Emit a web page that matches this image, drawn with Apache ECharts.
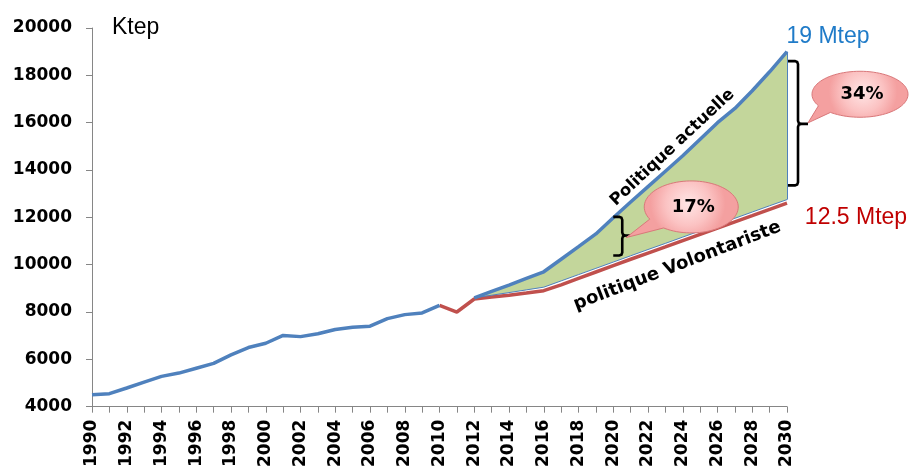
<!DOCTYPE html>
<html><head><meta charset="utf-8">
<script src="https://cdn.jsdelivr.net/npm/echarts@6/dist/echarts.min.js"></script>
<style>html,body{margin:0;padding:0;background:#fff}#c{width:911px;height:470px}</style>
</head><body><div id="c"></div>
<script>
const years = ['1990','1991','1992','1993','1994','1995','1996','1997','1998','1999','2000',
  '2001','2002','2003','2004','2005','2006','2007','2008','2009','2010',
  '2011','2012','2013','2014','2015','2016','2017','2018','2019','2020',
  '2021','2022','2023','2024','2025','2026','2027','2028','2029','2030'];
// Historique 1990-2010
const historique = [4500,4550,4790,5040,5280,5420,5625,5830,6190,6500,6680,7010,6960,7080,7260,7360,7400,7720,7890,7960,8280];
// Politique volontariste 2010-2030
const volontariste = [8280,8000,8550,8630,8710,8800,8900,9150,9420,9690,9960,10230,10490,10750,11020,11280,11550,11810,12070,12340,12600];
// Politique actuelle 2012-2030
const actuelle = [8600,8870,9140,9420,9700,10230,10760,11300,11980,12650,13300,13950,14600,15300,16000,16600,17350,18150,19000];
// Bord inférieur de la zone verte 2012-2030
const bordInf = [8600,8710,8820,8935,9050,9315,9580,9845,10110,10375,10640,10900,11165,11430,11695,11960,12225,12490,12750];
const yTicks = {min:4000, max:20000, interval:2000};

function pad(arr, startYear){
  const s = years.indexOf(startYear);
  return years.map((y,i)=> (i>=s && i-s<arr.length) ? arr[i-s] : null);
}
const histFull = pad(historique,'1990');
const volFull = pad(volontariste,'2010');
const actFull = pad(actuelle,'2012');
const infFull = pad(bordInf,'2012');
const diffFull = actFull.map((v,i)=> v==null?null: v - infFull[i]);

const BLUE = '#4F81BD', RED = '#C0504D', GREEN = '#C3D69B';
const chart = echarts.init(document.getElementById('c'));
const lastYear = years[years.length-1];
chart.setOption({
  animation:false,
  backgroundColor:'#fff',
  grid:{left:92,right:124,top:28,bottom:59},
  xAxis:{type:'category',data:years,boundaryGap:false,
    axisLine:{lineStyle:{color:'#868686',width:1}},
    axisTick:{interval:0,length:6,lineStyle:{color:'#868686'}},
    axisLabel:{interval:1,rotate:90,margin:13,color:'#000',fontFamily:'DejaVu Sans',fontWeight:'bold',fontSize:17},
    splitLine:{show:false}},
  yAxis:{type:'value',min:yTicks.min,max:yTicks.max,interval:yTicks.interval,
    axisLine:{show:true,lineStyle:{color:'#868686',width:1}},
    axisTick:{show:true,length:6,lineStyle:{color:'#868686'}},
    axisLabel:{margin:20,color:'#000',fontFamily:'DejaVu Sans',fontWeight:'bold',fontSize:17,formatter:v=>String(v)},
    splitLine:{show:false}},
  series:[
    {name:'bordInf',type:'line',data:infFull,stack:'gap',symbol:'none',z:4,
      lineStyle:{color:BLUE,width:1}},
    {name:'zone',type:'line',data:diffFull,stack:'gap',symbol:'none',z:2,
      lineStyle:{width:0,opacity:0},areaStyle:{color:GREEN,opacity:1},
      markLine:{silent:true,symbol:'none',label:{show:false},lineStyle:{color:BLUE,width:1,type:'solid'},
        data:[[{coord:[lastYear,bordInf[bordInf.length-1]]},{coord:[lastYear,actuelle[actuelle.length-1]]}]]}},
    {name:'Politique volontariste',type:'line',data:volFull,symbol:'none',z:3,
      lineStyle:{color:RED,width:3.5}},
    {name:'Politique actuelle',type:'line',data:actFull,symbol:'none',z:5,
      lineStyle:{color:BLUE,width:3.5}},
    {name:'Historique',type:'line',data:histFull,symbol:'none',z:5,
      lineStyle:{color:BLUE,width:3.5}}
  ]
});

const P = (cat,v)=>chart.convertToPixel({gridIndex:0},[cat,v]);
function bubblePts(cx,cy,rx,ry,t1,t2,tx,ty){
  const pts=[]; const end=t2+360;
  for(let t=t1;t<=end;t+=4){const a=t*Math.PI/180;pts.push([cx+rx*Math.cos(a),cy+ry*Math.sin(a)]);}
  const a=end*Math.PI/180; pts.push([cx+rx*Math.cos(a),cy+ry*Math.sin(a)]);
  pts.push([tx,ty]);
  return pts;
}
function bracket(x0,x1,tip,yTop,yMid,yBot){
  const r=3;
  return [
    {type:'polyline',z:20,shape:{points:[[x0,yTop],[x1-r,yTop],[x1-0.8,yTop+0.8],[x1,yTop+r],[x1,yMid-r],[x1+0.8,yMid-0.8],[x1+r,yMid],[tip,yMid]]},style:{stroke:'#000',lineWidth:2.6,fill:null}},
    {type:'polyline',z:20,shape:{points:[[x1+r,yMid],[x1+0.8,yMid+0.8],[x1,yMid+r],[x1,yBot-r],[x1-0.8,yBot-0.8],[x1-r,yBot],[x0,yBot]]},style:{stroke:'#000',lineWidth:2.6,fill:null}}
  ];
}
const bubbleFill = {type:'radial',x:0.55,y:0.4,r:0.65,colorStops:[{offset:0,color:'#FFE6E6'},{offset:0.6,color:'#FBC2C2'},{offset:1,color:'#F4A0A0'}]};

const [x30] = P(lastYear, 19000);
const bigTop = P(lastYear,18600)[1], bigMid = P(lastYear,15950)[1], bigBot = P(lastYear,13350)[1];
const bx0 = x30+1, bx1 = x30+11, btip = x30+21;
const [x20] = P('2020', 12000);
const smTop = P('2020',12020)[1], smMid = P('2020',11230)[1], smBot = P('2020',10390)[1];
const sx0 = x20, sx1 = x20+9, stip = x20+17;
const b34c = [x30+73, P(lastYear,17200)[1]];
const b17c = [x20+78, P('2020',12440)[1]];

const actLbl = P('2023',14950), volLbl = P('2023',9950);
chart.setOption({graphic:[
  ...bracket(bx0,bx1,btip,bigTop,bigMid,bigBot),
  ...bracket(sx0,sx1,stip,smTop,smMid,smBot),
  {type:'polygon',z:25,shape:{points:bubblePts(b34c[0],b34c[1],48,23,150,128,btip,bigMid-1)},style:{fill:bubbleFill,stroke:'#D9787A',lineWidth:1}},
  {type:'polygon',z:25,shape:{points:bubblePts(b17c[0],b17c[1],47,26,152,126,stip-4,smMid+2)},style:{fill:bubbleFill,stroke:'#D9787A',lineWidth:1}},
  {type:'text',z:30,x:b34c[0]+2,y:b34c[1],style:{text:'34%',font:'bold 18px "DejaVu Sans"',fill:'#000',align:'center',verticalAlign:'middle'}},
  {type:'text',z:30,x:b17c[0]+2,y:b17c[1],style:{text:'17%',font:'bold 18px "DejaVu Sans"',fill:'#000',align:'center',verticalAlign:'middle'}},
  {type:'text',z:30,x:actLbl[0]+7,y:actLbl[1],rotation:43*Math.PI/180,style:{text:'Politique actuelle',font:'bold 16.5px "DejaVu Sans"',fill:'#000',align:'center',verticalAlign:'middle'}},
  {type:'text',z:30,x:volLbl[0]+12,y:volLbl[1],rotation:21*Math.PI/180,style:{text:'politique Volontariste',font:'bold 18px "DejaVu Sans"',fill:'#000',align:'center',verticalAlign:'middle'}},
  {type:'text',z:30,x:112,y:28,style:{text:'Ktep',font:'23px "Liberation Sans"',fill:'#000',align:'left',verticalAlign:'middle'}},
  {type:'text',z:30,x:x30+41,y:37,style:{text:'19 Mtep',font:'23px "Liberation Sans"',fill:'#1F7BC8',align:'center',verticalAlign:'middle'}},
  {type:'text',z:30,x:x30+69,y:218,style:{text:'12.5 Mtep',font:'23px "Liberation Sans"',fill:'#C00000',align:'center',verticalAlign:'middle'}}
]});
</script></body></html>
